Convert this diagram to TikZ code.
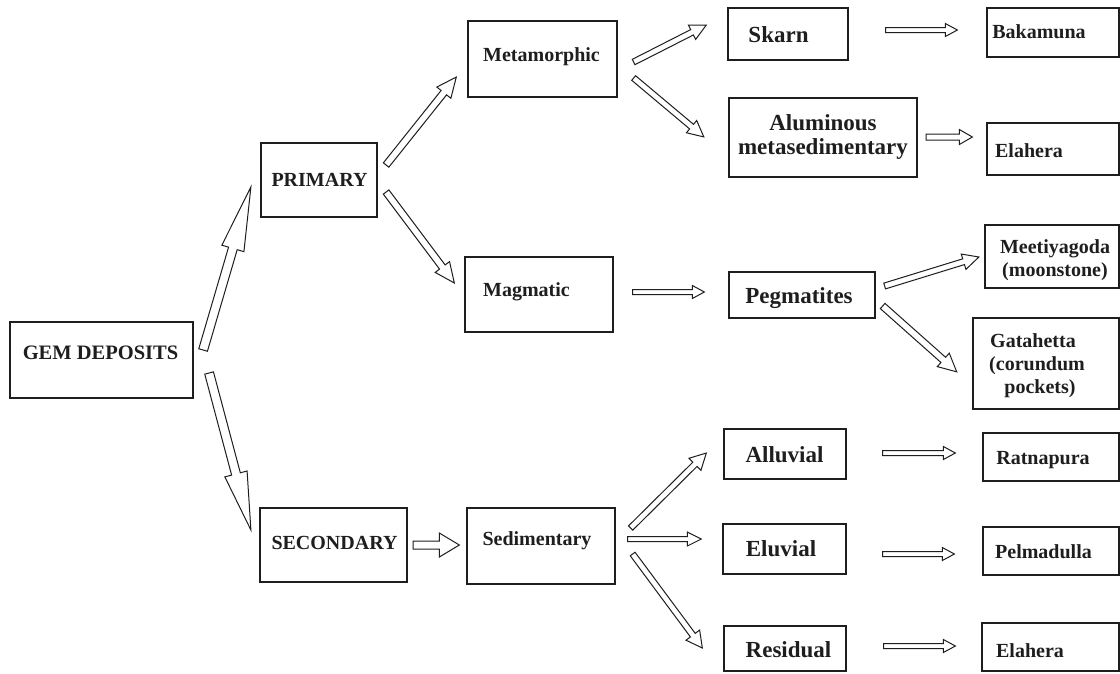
\documentclass[tikz,border=0pt]{standalone}
\usepackage{fontspec}
\setmainfont{Liberation Serif}
\usetikzlibrary{calc}
\definecolor{ink}{HTML}{1E1E1E}
\tikzset{
  box/.style={draw=ink, line width=1.3pt, inner sep=0pt, rectangle},
  thickbox/.style={box, line width=2.2pt},
  lbl/.style={inner sep=0pt, anchor=base, text=ink, font=\bfseries\fontsize{20}{24}\selectfont},
  lblL/.style={lbl, font=\bfseries\fontsize{23}{27}\selectfont},
  arrowline/.style={draw=ink, line width=1pt, fill=white, line join=miter},
}
\newcommand\boxat[6]{%
  \node[#2, minimum width={#5-#3}, minimum height={#6-#4}] (#1) at ({(#3+#5)/2},{(#4+#6)/2}) {};}
\newcommand\harrow[5]{%
  \path let \p1=#1, \p2=#2 in \pgfextra{%
    \pgfmathsetmacro\harAtmp{atan2(\y2-\y1,\x2-\x1)}%
    \pgfmathsetmacro\harLtmp{veclen(\x2-\x1,\y2-\y1)}%
    \xdef\harA{\harAtmp}\xdef\harL{\harLtmp}\xdef\harX{\x1}\xdef\harY{\y1}};
  \begin{scope}[shift={(\harX,\harY)}, rotate=\harA]
    \draw[arrowline] (0pt,-#3pt) -- ({\harL*1pt-#5pt},-#3pt) -- ({\harL*1pt-#5pt},-#4pt)
      -- ({\harL*1pt},0pt) -- ({\harL*1pt-#5pt},#4pt) -- ({\harL*1pt-#5pt},#3pt) -- (0pt,#3pt) -- cycle;
  \end{scope}}
\begin{document}
\begin{tikzpicture}[x=1pt, y=-1pt]
\useasboundingbox[fill=white] (0,0) rectangle (1120,673);
% boxes
\boxat{gem}{thickbox}{10}{322}{193}{398}
\boxat{prim}{thickbox}{261}{143}{377}{217}
\boxat{sec}{thickbox}{260}{508}{407}{582}
\boxat{meta}{box}{468}{21}{617}{97}
\boxat{magm}{box}{465}{257}{613}{332}
\boxat{sedi}{box}{467}{508}{615}{584}
\boxat{skarn}{box}{728}{8}{848}{60}
\boxat{alum}{thickbox}{729}{98}{917}{177}
\boxat{pegm}{box}{729}{272}{875}{318}
\boxat{allu}{box}{724}{429}{846}{479}
\boxat{eluv}{box}{723}{524}{846}{574}
\boxat{resid}{box}{724}{626}{846}{671}
\boxat{baka}{box}{987}{8}{1119}{57}
\boxat{elahA}{box}{987}{123}{1119}{175}
\boxat{meet}{thickbox}{985}{225}{1119}{288}
\boxat{gata}{thickbox}{973}{318}{1119}{409}
\boxat{ratn}{box}{983}{433}{1119}{481}
\boxat{pelm}{box}{983}{527}{1119}{575}
\boxat{elahB}{box}{982}{623}{1119}{671}
% labels
\node[lbl, font=\bfseries\fontsize{20.5}{24}\selectfont] (gemT) at (100.5,359) {GEM DEPOSITS};
\node[lbl] (primT) at (319.5,186) {PRIMARY};
\node[lbl] (secT) at (334.5,549) {SECONDARY};
\node[lbl] (metaT) at (541.5,61) {Metamorphic};
\node[lbl] (magmT) at (526.5,296) {Magmatic};
\node[lbl] (sediT) at (537,545) {Sedimentary};
\node[lblL] (skarnT) at (778.5,42) {Skarn};
\node[lblL] (alumT1) at (823,130) {Aluminous};
\node[lblL] (alumT2) at (823,154) {metasedimentary};
\node[lblL] (pegmT) at (799,303) {Pegmatites};
\node[lblL] (alluT) at (784.5,462) {Alluvial};
\node[lblL] (eluvT) at (781,556) {Eluvial};
\node[lblL] (residT) at (788.5,657) {Residual};
\node[lbl] (bakaT) at (1039,38) {Bakamuna};
\node[lbl] (elahAT) at (1029,157) {Elahera};
\node[lbl] (meetT1) at (1055,253) {Meetiyagoda};
\node[lbl] (meetT2) at (1055,276) {(moonstone)};
\node[lbl] (gataT1) at (1033,347) {Gatahetta};
\node[lbl] (gataT2) at (1037,370) {(corundum};
\node[lbl] (gataT3) at (1040,393) {pockets)};
\node[lbl] (ratnT) at (1043,464) {Ratnapura};
\node[lbl] (pelmT) at (1043.5,558) {Pelmadulla};
\node[lbl] (elahBT) at (1030,657) {Elahera};
% arrows
\harrow{($(gem.east)+(9,-10)$)}{($(prim.west)+(-9,7)$)}{4.5}{11.5}{64}
\harrow{($(gem.east)+(15,13)$)}{($(sec.west)+(-8,-15)$)}{4.5}{11.5}{58}
\harrow{($(prim.east)+(8,-15)$)}{($(meta.west)+(-11,18)$)}{3.5}{9}{20}
\harrow{($(prim.east)+(8,12)$)}{($(magm.west)+(-10,-11.5)$)}{3.5}{9}{20}
\harrow{($(meta.east)+(16,3)$)}{($(skarn.west)+(-21,-9)$)}{3}{8}{16}
\harrow{($(meta.east)+(16,19)$)}{($(alum.west)+(-24,-0.5)$)}{3}{8}{16}
\harrow{($(skarn.east)+(37,-4)$)}{($(baka.west)+(-29,-2.5)$)}{2.5}{6.5}{12}
\harrow{($(alum.east)+(8,-0.5)$)}{($(elahA.west)+(-14,-12)$)}{3}{7.5}{13}
\harrow{($(magm.east)+(19,-2.5)$)}{($(pegm.west)+(-24,-3)$)}{2.5}{6.5}{12}
\harrow{($(pegm.east)+(9,-9)$)}{($(meet.west)+(-5,0.5)$)}{3}{8}{16}
\harrow{($(pegm.east)+(7,11)$)}{($(gata.west)+(-15,8.5)$)}{3.5}{9}{18}
\harrow{($(sec.east)+(5,0)$)}{($(sedi.west)+(-7,-1)$)}{4}{12}{20}
\harrow{($(sedi.east)+(15,-18)$)}{($(allu.west)+(-17,-1)$)}{3}{8.5}{16}
\harrow{($(sedi.east)+(12,-7)$)}{($(eluv.west)+(-21,-10)$)}{2.5}{7}{14}
\harrow{($(sedi.east)+(17,8)$)}{($(resid.west)+(-21,-0.5)$)}{3}{8.5}{16}
\harrow{($(allu.east)+(36,-1)$)}{($(ratn.west)+(-27,-4)$)}{2.5}{6.5}{12}
\harrow{($(eluv.east)+(36,5)$)}{($(pelm.west)+(-28,3)$)}{2.5}{6.5}{12}
\harrow{($(resid.east)+(37,-2.5)$)}{($(elahB.west)+(-26,-1)$)}{2.5}{6.5}{12}
\end{tikzpicture}
\end{document}
